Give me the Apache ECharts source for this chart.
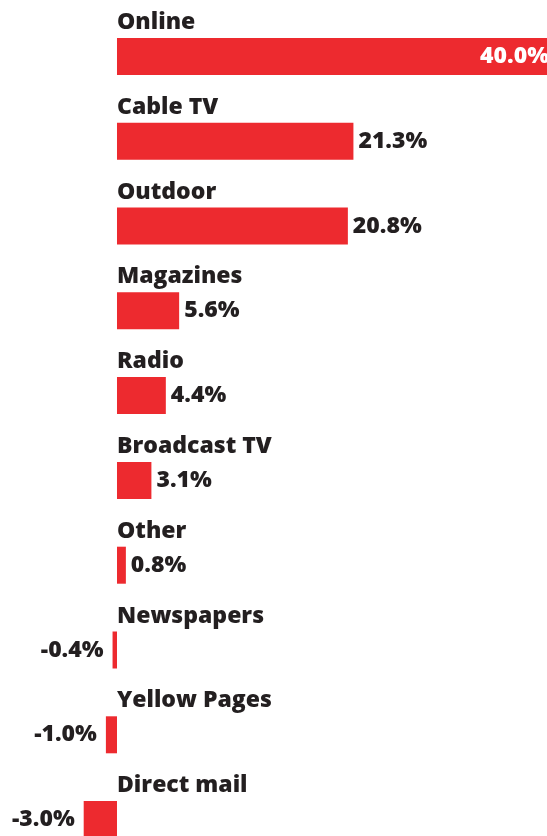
<!DOCTYPE html>
<html>
<head>
<meta charset="utf-8">
<script src="https://cdn.jsdelivr.net/npm/echarts@6/dist/echarts.min.js"></script>
<style>
  html, body { margin: 0; padding: 0; background: #ffffff; }
  #chart { width: 547px; height: 836px; }
</style>
</head>
<body>
<div id="chart"></div>
<script>
// Change in ad spending by medium, percent
const categories = ['Online', 'Cable TV', 'Outdoor', 'Magazines', 'Radio', 'Broadcast TV', 'Other', 'Newspapers', 'Yellow Pages', 'Direct mail'];
const values = [40.0, 21.3, 20.8, 5.6, 4.4, 3.1, 0.8, -0.4, -1.0, -3.0];

const RED = '#ED2A2F';
const INK = '#231F20';
const FONT = '"Open Sans", "Liberation Sans", sans-serif';

const chart = echarts.init(document.getElementById('chart'), null, { renderer: 'canvas' });

const barData = values.map(function (v, i) {
  const item = { value: v };
  if (i === 0) {
    // the longest bar carries its value inside, in white
    item.label = { position: 'insideRight', color: '#ffffff', distance: 0, offset: [2, 0] };
  } else if (v < 0) {
    // declines: value sits a little further off the bar, to its left
    item.label = { distance: 9 };
  }
  return item;
});

// one anchor per category on the zero line, carrying the category name above its bar
const nameAnchors = categories.map(function (c) { return [0, c]; });

chart.setOption({
  animation: false,
  grid: { left: 0, top: 14, width: 547, height: 848, containLabel: false, outerBoundsMode: 'none' },
  xAxis: {
    type: 'value',
    min: -10.54,
    max: 38.74,
    show: false
  },
  yAxis: {
    type: 'category',
    data: categories,
    inverse: true,
    show: false
  },
  series: [{
    type: 'bar',
    data: barData,
    barWidth: 37,
    itemStyle: { color: RED },
    label: {
      show: true,
      position: 'outside',
      distance: 5,
      color: INK,
      fontFamily: FONT,
      fontWeight: 800,
      fontSize: 23,
      formatter: function (p) { return p.value.toFixed(1) + '%'; }
    }
  }, {
    type: 'scatter',
    data: nameAnchors,
    symbolSize: 0,
    silent: true,
    z: 3,
    itemStyle: { opacity: 1 },
    label: {
      show: true,
      position: 'right',
      distance: 0,
      offset: [0, -34],
      color: INK,
      opacity: 1,
      fontFamily: FONT,
      fontWeight: 800,
      fontSize: 23,
      formatter: function (p) { return p.data[1]; }
    }
  }]
});
</script>
</body>
</html>
